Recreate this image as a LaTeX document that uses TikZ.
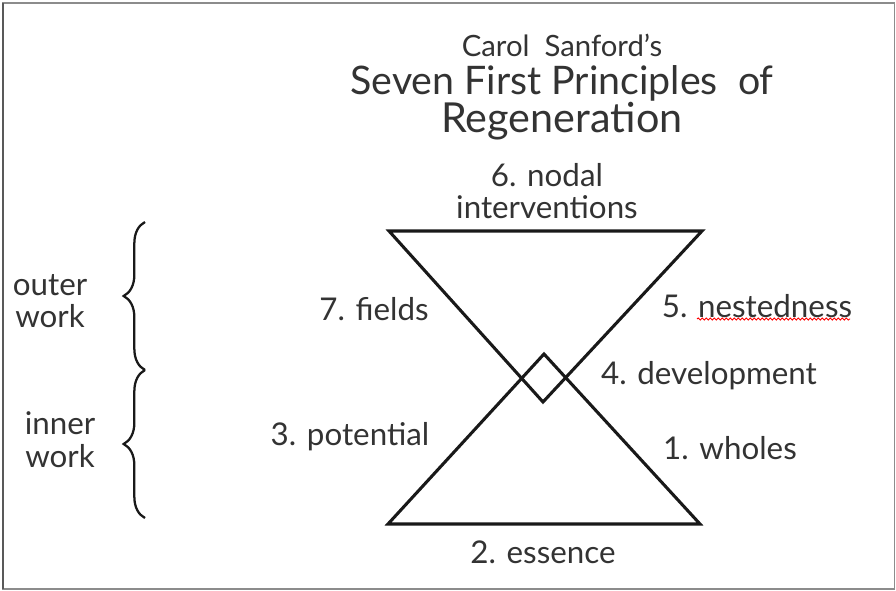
\documentclass[tikz,border=0pt]{standalone}
\usepackage{fontspec}
\setmainfont{Lato}
\usetikzlibrary{decorations.pathreplacing,decorations.pathmorphing}
\begin{document}
\begin{tikzpicture}[x=0.75pt,y=-0.75pt,
  lbl/.style={text=black!80, font=\fontsize{23.5}{24.5}\selectfont, inner sep=0pt, align=center},
  tri/.style={draw=black!90, line width=2.3pt, line join=miter},
  bracestyle/.style={draw=black!90, line width=1.7pt, decorate,
    decoration={brace, amplitude=16pt, aspect=0.5}},
  frame/.style={draw=black!45, line width=1.2pt}]
\useasboundingbox (0,0) rectangle (896,590);
\fill[white] (0,0) rectangle (896,590);
\draw[frame] (2.5,3) rectangle (894.5,589);
\draw[draw=black!65, line width=1.5pt] (2.5,3) -- (2.5,589);

% title
\node[text=black!80, font=\fontsize{22}{24}\selectfont, inner sep=0pt] (author) at (562,45) {Carol\ \ Sanford's};
\node[text=black!80, inner sep=0pt, align=center] (title) at (562,103)
  {\fontsize{29.5}{26}\selectfont Seven First Principles\ \ of\\
   \fontsize{31}{26}\selectfont Regeneration};

% hourglass
\coordinate (tl) at (389,231);
\coordinate (tr) at (702,231);
\coordinate (tapex) at (543,402);
\coordinate (bl) at (388,524);
\coordinate (br) at (700,524);
\coordinate (bapex) at (544,354);
\draw[tri] (tl) -- (tr) -- (tapex) -- cycle;
\draw[tri] (bl) -- (br) -- (bapex) -- cycle;

% labels
\node[lbl] (p6) at (547,191) {6. nodal\\interventions};
\node[lbl] (p7) at (374,309) {7. fields};
\node[lbl] (p5) at (757,306) {5. nestedness};
\node[lbl] (p4) at (709,376) {4. development};
\node[lbl] (p3) at (350,437) {3. potential};
\node[lbl] (p1) at (730,448) {1. wholes};
\node[lbl] (p2) at (543,552) {2. essence};

% spell-check squiggle
\coordinate (sq1) at (697,319);
\coordinate (sq2) at (850,319);
\draw[red, line width=0.7pt, decorate, decoration={snake, amplitude=0.8pt, segment length=3pt}] (sq1) -- (sq2);

% left side
\node[lbl] (outer) at (50,301) {outer\\work};
\node[lbl] (inner) at (60,440) {inner\\work};
\coordinate (b1) at (145,222);
\coordinate (b2) at (145,370);
\coordinate (b3) at (145,518);
\draw[bracestyle] (b2) -- (b1);
\draw[bracestyle] (b3) -- (b2);
\end{tikzpicture}
\end{document}
